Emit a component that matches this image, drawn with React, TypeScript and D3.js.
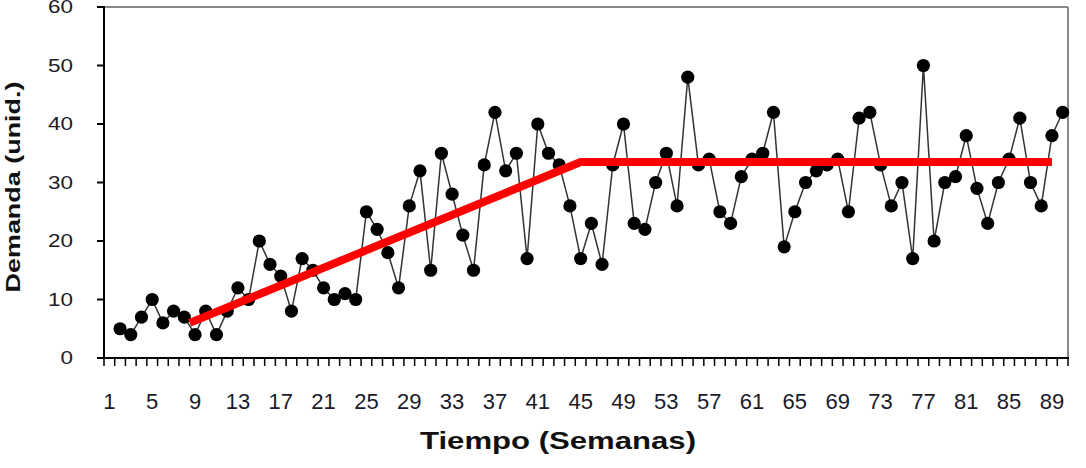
import React from "react";
import * as d3 from "d3";

const weeks: number[] = d3.range(1, 91);
const demand: (number | null)[] = [
  null, 5, 4, 7, 10, 6, 8, 7, 4, 8,
  4, 8, 12, 10, 20, 16, 14, 8, 17, 15,
  12, 10, 11, 10, 25, 22, 18, 12, 26, 32,
  15, 35, 28, 21, 15, 33, 42, 32, 35, 17,
  40, 35, 33, 26, 17, 23, 16, 33, 40, 23,
  22, 30, 35, 26, 48, 33, 34, 25, 23, 31,
  34, 35, 42, 19, 25, 30, 32, 33, 34, 25,
  41, 42, 33, 26, 30, 17, 50, 20, 30, 31,
  38, 29, 23, 30, 34, 41, 30, 26, 38, 42,
];
const trendWeeks: number[] = [8.5, 45, 89];
const trendValues: number[] = [6, 33.5, 33.5];
const yTicks: number[] = [0, 10, 20, 30, 40, 50, 60];
const xTickLabels: number[] = [1, 5, 9, 13, 17, 21, 25, 29, 33, 37, 41, 45, 49, 53, 57, 61, 65, 69, 73, 77, 81, 85, 89];

const W = 1086;
const H = 468;
const L = 104, R = 1068, T = 7, B = 358;

export default function App() {
  const x = d3.scaleBand<number>().domain(weeks).range([L, R]).padding(0);
  const bw = x.bandwidth();
  const cx = (w: number) => L + (w - 0.5) * bw;
  const y = d3.scaleLinear().domain([0, 60]).range([B, T]);

  const pts = weeks
    .map((w, i) => ({ w, v: demand[i] }))
    .filter((d) => d.v !== null) as { w: number; v: number }[];

  const line = d3
    .line<{ w: number; v: number }>()
    .x((d) => cx(d.w))
    .y((d) => y(d.v));

  const trend = trendWeeks.map((w, i) => ({ w, v: trendValues[i] }));

  const boundaries = d3.range(0, weeks.length + 1).map((i) => L + i * bw);

  const font = "'Liberation Sans', Arial, sans-serif";

  return (
    <svg
      width={W}
      height={H}
      style={{ position: "absolute", left: 0, top: 0, background: "#fff" }}
      fontFamily={font}
    >
      <rect x={0} y={0} width={W} height={H} fill="#fff" />
      {/* frame top/right */}
      <line x1={L} x2={R} y1={T} y2={T} stroke="#888" strokeWidth={2} />
      <line x1={R} x2={R} y1={T} y2={B} stroke="#888" strokeWidth={2} />

      {/* data line */}
      <path d={line(pts) || ""} fill="none" stroke="#333" strokeWidth={1.5} />
      {pts.map((d) => (
        <circle key={d.w} cx={cx(d.w)} cy={y(d.v)} r={6.6} fill="#000" />
      ))}

      {/* trend */}
      <path d={line(trend) || ""} fill="none" stroke="#ff0000" strokeWidth={8} strokeLinejoin="round" />

      {/* axes */}
      <line x1={L} x2={L} y1={T - 1} y2={B + 1} stroke="#000" strokeWidth={2} />
      <line x1={L - 1} x2={R + 1} y1={B} y2={B} stroke="#000" strokeWidth={2} />

      {yTicks.map((t) => (
        <g key={t}>
          <line x1={97} x2={L} y1={y(t)} y2={y(t)} stroke="#000" strokeWidth={2} />
          <text
            x={73}
            y={y(t)}
            dy="0.36em"
            textAnchor="end"
            fontSize={18}
            fill="#1a1a2a"
            textLength={String(t).length * 12.5}
            lengthAdjust="spacingAndGlyphs"
          >
            {t}
          </text>
        </g>
      ))}

      {boundaries.map((bx, i) => (
        <line key={i} x1={bx} x2={bx} y1={B} y2={B + 8} stroke="#000" strokeWidth={1.5} />
      ))}

      {xTickLabels.map((t) => (
        <text key={t} x={cx(t)} y={409} textAnchor="middle" fontSize={22} fill="#1a1a2a">
          {t}
        </text>
      ))}

      <text
        x={558}
        y={449}
        textAnchor="middle"
        fontSize={24}
        fontWeight="bold"
        fill="#111"
        textLength={276}
        lengthAdjust="spacingAndGlyphs"
      >
        Tiempo (Semanas)
      </text>

      <text
        transform={`translate(20,187) rotate(-90)`}
        x={0}
        y={0}
        textAnchor="middle"
        fontSize={20}
        fontWeight="bold"
        fill="#111"
        textLength={211}
        lengthAdjust="spacingAndGlyphs"
      >
        Demanda (unid.)
      </text>
    </svg>
  );
}
